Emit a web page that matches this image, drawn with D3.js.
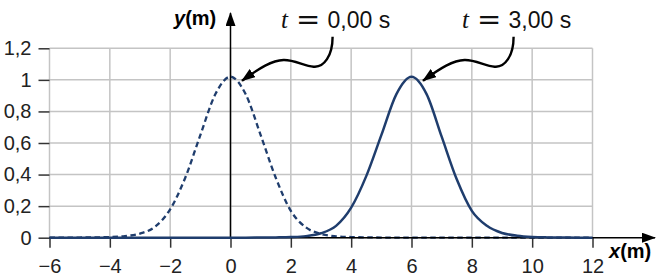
<!DOCTYPE html>
<html>
<head>
<meta charset="utf-8">
<script src="https://cdn.jsdelivr.net/npm/d3@7"></script>
<style>
  body { margin: 0; background: #fff; }
  svg { display: block; font-family: "Liberation Sans", Arial, sans-serif; }
</style>
</head>
<body>
<div id="chart"></div>
<script>
// sample positions (m)
const xValues = [-6, -5.5, -5, -4.5, -4, -3.5, -3, -2.5, -2, -1.5, -1, -0.5, 0, 0.5, 1, 1.5, 2, 2.5, 3,
  3.5, 4, 4.5, 5, 5.5, 6, 6.5, 7, 7.5, 8, 8.5, 9, 9.5, 10, 10.5, 11, 11.5, 12];
// pulse at t = 0,00 s (dashed)
const yAtT0 = [0, 0, 0.001, 0.002, 0.004, 0.01, 0.026, 0.07, 0.18, 0.38, 0.65, 0.91, 1.02, 0.91, 0.65, 0.38, 0.17, 0.065, 0.024,
  0.009, 0.004, 0.002, 0.001, 0, 0, 0, 0, 0, 0, 0, 0, 0, 0, 0, 0, 0, 0];
// pulse at t = 3,00 s (solid)
const yAtT3 = [0, 0, 0, 0, 0, 0, 0, 0, 0, 0, 0, 0, 0, 0, 0.001, 0.002, 0.004, 0.01, 0.028,
  0.075, 0.19, 0.39, 0.65, 0.91, 1.02, 0.91, 0.64, 0.37, 0.17, 0.075, 0.03, 0.013, 0.005, 0.002, 0.001, 0, 0];

const xTicks = [-6, -4, -2, 0, 2, 4, 6, 8, 10, 12];
const yTicks = [0, 0.2, 0.4, 0.6, 0.8, 1, 1.2];
const labels = [
  { t: "0,00", peakX: 0 },
  { t: "3,00", peakX: 6 }
];

const width = 657, height = 280;
const navy = "#1f3d6d";

const fmt = (d) => (d < 0 ? "\u2212" : "") + String(Math.abs(d)).replace(".", ",");

const svg = d3.select("#chart").append("svg")
  .attr("width", width)
  .attr("height", height);

const x = d3.scaleLinear().domain([-6, 12]).range([49.5, 592.5]);
const y = d3.scaleLinear().domain([0, 1.2]).range([237.7, 48.3]);

const defs = svg.append("defs");
defs.append("marker")
  .attr("id", "head")
  .attr("viewBox", "0 0 14 10")
  .attr("refX", 13).attr("refY", 5)
  .attr("markerWidth", 14).attr("markerHeight", 10)
  .attr("markerUnits", "userSpaceOnUse")
  .attr("orient", "auto")
  .append("path").attr("d", "M0,0 L14,5 L0,10 Z").attr("fill", "#000");

// grid
svg.append("g").selectAll("line").data(xTicks).enter().append("line")
  .attr("x1", (d) => x(d)).attr("x2", (d) => x(d))
  .attr("y1", y(1.2)).attr("y2", y(0))
  .attr("stroke", "#c4c4c4").attr("stroke-width", 1.5);
svg.append("g").selectAll("line").data(yTicks).enter().append("line")
  .attr("x1", x(-6)).attr("x2", x(12))
  .attr("y1", (d) => y(d)).attr("y2", (d) => y(d))
  .attr("stroke", "#c4c4c4").attr("stroke-width", 1.5);

// axes ticks + labels
const xAxis = svg.append("g")
  .attr("transform", `translate(0,${y(0)})`)
  .call(d3.axisBottom(x).tickValues(xTicks).tickFormat(fmt).tickSize(10).tickPadding(11));
const yAxis = svg.append("g")
  .attr("transform", `translate(${x(-6)},0)`)
  .call(d3.axisLeft(y).tickValues(yTicks).tickFormat(fmt).tickSize(11).tickPadding(7));
[xAxis, yAxis].forEach((g) => {
  g.select(".domain").remove();
  g.selectAll(".tick line").attr("stroke", "#333").attr("stroke-width", 1.5);
  g.selectAll(".tick text").attr("font-size", 20).attr("fill", "#222")
    .attr("font-family", "Liberation Sans, Arial, sans-serif");
});

// curves
const line = d3.line()
  .x((d) => x(d[0]))
  .y((d) => y(d[1]))
  .curve(d3.curveMonotoneX);

svg.append("path")
  .datum(xValues.map((v, i) => [v, yAtT0[i]]))
  .attr("fill", "none").attr("stroke", navy)
  .attr("stroke-width", 2.3).attr("stroke-dasharray", "5.5,3.5")
  .attr("d", line);

// main axes with arrows
svg.append("line")
  .attr("x1", x(-6)).attr("x2", 655)
  .attr("y1", y(0)).attr("y2", y(0))
  .attr("stroke", "#000").attr("stroke-width", 1.5)
  .attr("marker-end", "url(#head)");
svg.append("line")
  .attr("x1", x(0)).attr("x2", x(0))
  .attr("y1", y(0)).attr("y2", 13)
  .attr("stroke", "#000").attr("stroke-width", 1.5)
  .attr("marker-end", "url(#head)");

svg.append("path")
  .datum(xValues.map((v, i) => [v, yAtT3[i]]))
  .attr("fill", "none").attr("stroke", navy)
  .attr("stroke-width", 2.5)
  .attr("d", line);

// axis titles
const yTitle = svg.append("text").attr("x", 174).attr("y", 25)
  .attr("font-size", 20).attr("font-weight", "bold");
yTitle.append("tspan").attr("font-style", "italic").text("y");
yTitle.append("tspan").text("(m)");

const xTitle = svg.append("text").attr("x", 609).attr("y", 258)
  .attr("font-size", 20).attr("font-weight", "bold");
xTitle.append("tspan").attr("font-style", "italic").text("x");
xTitle.append("tspan").text("(m)");

// time labels with curly arrows
labels.forEach((l) => {
  const tipX = x(l.peakX) + 11.5;
  const tipY = y(1.02) + 4;
  const x0 = tipX + 39;
  const txt = svg.append("text").attr("y", 28).attr("font-size", 23).attr("fill", "#111");
  txt.append("tspan").attr("x", x0)
    .attr("font-family", "Liberation Serif, serif").attr("font-style", "italic").attr("font-size", 25).text("t");
  txt.append("tspan").attr("x", x0 + 15).attr("dy", 1)
    .attr("font-family", "DejaVu Sans, sans-serif").attr("font-size", 29).text("=");
  txt.append("tspan").attr("x", x0 + 46.5).attr("dy", -1).text(l.t + " s");

  svg.append("path")
    .attr("transform", `translate(${tipX},${tipY})`)
    .attr("d", "M90.6,-44 C90.6,-25 82,-13 71.6,-14 C62,-15 52,-21 41.6,-20.7 C30,-20.4 18,-13 0,0")
    .attr("fill", "none").attr("stroke", "#000").attr("stroke-width", 2.4)
    .attr("marker-end", "url(#head)");
});
</script>
</body>
</html>
